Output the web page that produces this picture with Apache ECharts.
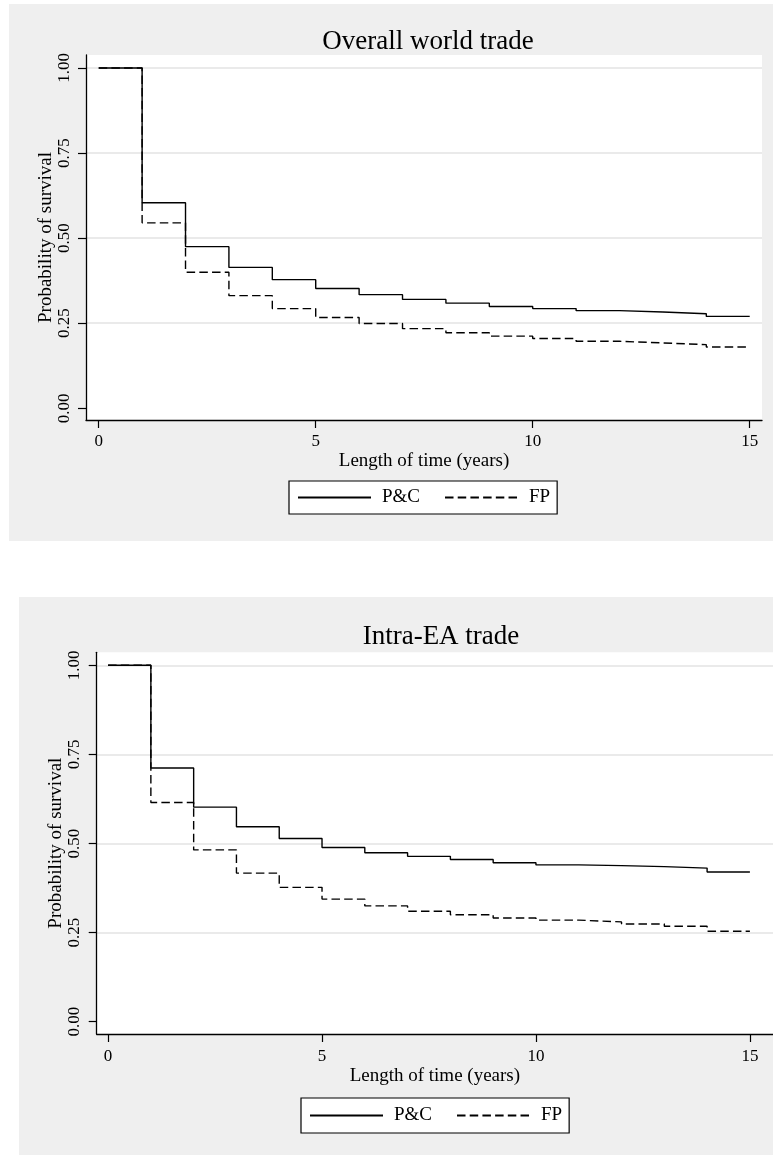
<!DOCTYPE html>
<html><head><meta charset="utf-8">
<script src="https://cdn.jsdelivr.net/npm/echarts@6/dist/echarts.min.js"></script>
<style>html,body{margin:0;padding:0;background:#fff}#c{width:773px;height:1155px}</style>
</head><body><div id="c"></div>
<script>
// ---- data ----
const years = [0,1,2,3,4,5,6,7,8,9,10,11,12,13,14,15];
const xTicks = [0,5,10,15];
const yTicks = [0,0.25,0.5,0.75,1];
const seriesNames = ['P&C','FP'];
const titles = ['Overall world trade','Intra-EA trade'];
const xName = 'Length of time (years)';
const yName = 'Probability of survival';
const worldPC = [1.000,0.604,0.475,0.414,0.378,0.352,0.334,0.320,0.309,0.299,0.293,0.287,0.283,0.278,0.270,0.270];
const worldFP = [1.000,0.545,0.400,0.331,0.293,0.267,0.249,0.234,0.222,0.212,0.205,0.197,0.192,0.187,0.180,0.180];
const eaPC    = [1.000,0.712,0.602,0.547,0.514,0.489,0.474,0.464,0.455,0.446,0.440,0.438,0.435,0.431,0.420,0.420];
const eaFP    = [1.000,0.615,0.482,0.417,0.377,0.344,0.325,0.310,0.300,0.291,0.285,0.280,0.274,0.268,0.254,0.254];

const FONT = "'Liberation Serif','DejaVu Serif',serif";
const pairs = (ys) => years.map((x,i)=>[x, ys[i]]);

function xAxisFor(gi, min, max, margin, gap){
  return {
    type:'value', gridIndex:gi, min:min, max:max,
    name:xName, nameLocation:'middle', nameGap:gap, nameMoveOverlap:false,
    nameTextStyle:{fontFamily:FONT, fontSize:19, color:'#000'},
    axisLine:{show:true, onZero:false, lineStyle:{color:'#000', width:1.3}},
    axisTick:{show:true, length:8, customValues:xTicks, lineStyle:{color:'#000', width:1.2}},
    axisLabel:{show:true, customValues:xTicks, margin:margin, fontFamily:FONT, fontSize:17, color:'#000'},
    splitLine:{show:false}
  };
}
function yAxisFor(gi, min, max, margin, gap){
  return {
    type:'value', gridIndex:gi, min:min, max:max,
    name:yName, nameLocation:'middle', nameGap:gap, nameMoveOverlap:false,
    nameTextStyle:{fontFamily:FONT, fontSize:19, color:'#000'},
    axisLine:{show:true, onZero:false, lineStyle:{color:'#000', width:1.3}},
    axisTick:{show:true, length:8, customValues:yTicks, lineStyle:{color:'#000', width:1.2}},
    axisLabel:{show:true, customValues:yTicks, rotate:90, margin:margin, fontFamily:FONT, fontSize:17, color:'#000',
               formatter:(v)=>v.toFixed(2)},
    splitLine:{show:true, lineStyle:{color:['rgba(0,0,0,0)','#e3e3e3','#e3e3e3','#e3e3e3','#e3e3e3'], width:1.5}}
  };
}
function lineSeries(name, gi, ys, dashed){
  return {
    type:'line', name:name, xAxisIndex:gi, yAxisIndex:gi, step:'end',
    data:pairs(ys), symbol:'none', silent:true, animation:false,
    lineStyle:{color:'#000', width:1.4, type: dashed ? [8.5,4.2] : 'solid'},
    itemStyle:{color:'#000'}, z: dashed ? 3 : 4
  };
}
const legendCommon = {
  data:seriesNames, orient:'horizontal', itemWidth:73, itemHeight:14, itemGap:24,
  backgroundColor:'#fff', borderColor:'#000', borderWidth:1.2,
  padding:[7,7,7,8],
  itemStyle:{color:'rgba(0,0,0,0)', borderColor:'rgba(0,0,0,0)', borderWidth:0, opacity:0},
  textStyle:{fontFamily:FONT, fontSize:19, color:'#000', padding:[0,0,0,6]},
  selectedMode:false
};

const chart = echarts.init(document.getElementById('c'), null, {renderer:'canvas'});
chart.setOption({
  animation:false,
  backgroundColor:'#fff',
  graphic:[
    {type:'rect', z:-1, silent:true, shape:{x:9, y:4, width:764, height:537}, style:{fill:'#efefef'}},
    {type:'rect', z:-1, silent:true, shape:{x:19, y:597, width:754, height:558}, style:{fill:'#efefef'}}
  ],
  title:[
    {text:titles[0], left:423, top:23, textAlign:'center', textStyle:{fontFamily:FONT, fontSize:27, fontWeight:'normal', color:'#000'}},
    {text:titles[1], left:436, top:618, textAlign:'center', textStyle:{fontFamily:FONT, fontSize:27, fontWeight:'normal', color:'#000'}}
  ],
  legend:[
    Object.assign({}, legendCommon, {left:289, top:481}),
    Object.assign({}, legendCommon, {left:301, top:1098, padding:[8,7,8,8]})
  ],
  grid:[
    {left:86, top:55, width:676, height:365, show:true, backgroundColor:'#fff', borderWidth:0, containLabel:false},
    {left:96.7, top:652.3, width:690, height:381.7, show:true, backgroundColor:'#fff', borderWidth:0, containLabel:false}
  ],
  xAxis:[
    xAxisFor(0, -0.293, 15.283, 13, 32),
    xAxisFor(1, -0.266, 15.54, 14.5, 33)
  ],
  yAxis:[
    yAxisFor(0, -0.0344, 1.0382, 13, 30.5),
    yAxisFor(1, -0.0345, 1.0365, 14, 31)
  ],
  series:[
    lineSeries(seriesNames[0], 0, worldPC, false),
    lineSeries(seriesNames[1], 0, worldFP, true),
    lineSeries(seriesNames[0], 1, eaPC, false),
    lineSeries(seriesNames[1], 1, eaFP, true)
  ]
});
</script></body></html>
